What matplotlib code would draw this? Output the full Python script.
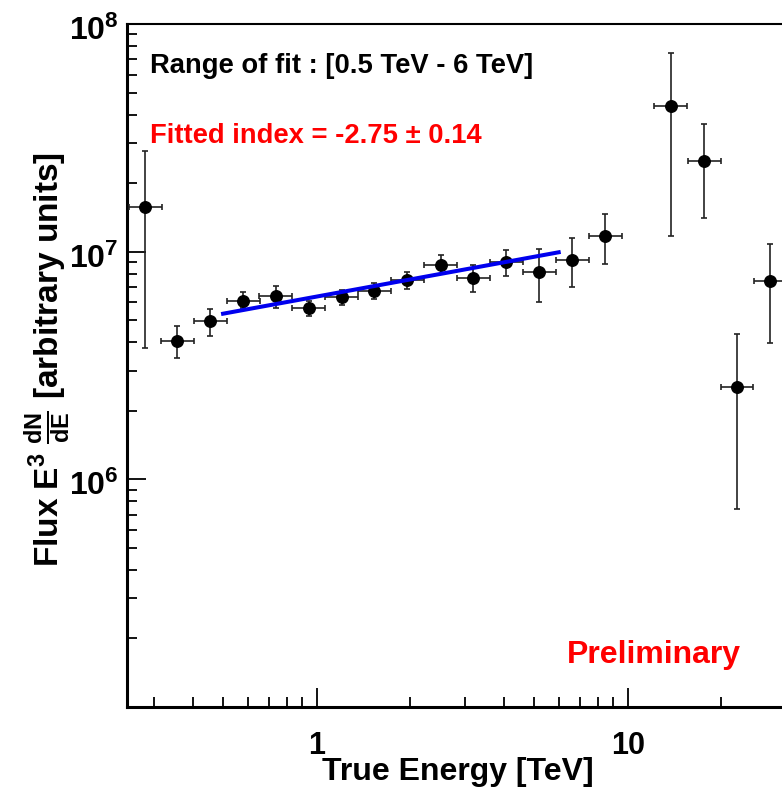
"""Unfolded spectrum: E^3 dN/dE versus true energy, with power-law fit."""

from __future__ import annotations

import matplotlib
import numpy as np
from matplotlib import ticker
from matplotlib import transforms

matplotlib.use("Agg")
from matplotlib import pyplot as plt  # noqa: E402


ENERGY_TEV = [0.281, 0.356, 0.454, 0.581, 0.738, 0.944, 1.203, 1.532, 1.956,
              2.504, 3.188, 4.062, 5.196, 6.635, 8.47, 13.77, 17.6, 22.46, 28.68]
FLUX = [1.57e7, 4.05e6, 4.94e6, 6.08e6, 6.37e6, 5.64e6, 6.33e6, 6.74e6, 7.48e6,
        8.74e6, 7.67e6, 8.98e6, 8.15e6, 9.23e6, 1.175e7, 4.36e7, 2.51e7, 2.55e6, 7.40e6]
FLUX_UP = [2.77e7, 4.70e6, 5.62e6, 6.68e6, 7.05e6, 6.05e6, 6.81e6, 7.29e6, 8.11e6,
           9.63e6, 8.74e6, 1.013e7, 1.023e7, 1.143e7, 1.47e7, 7.48e7, 3.62e7, 4.33e6, 1.077e7]
FLUX_DOWN = [3.76e6, 3.42e6, 4.26e6, 5.68e6, 5.66e6, 5.20e6, 5.84e6, 6.22e6, 6.86e6,
             7.98e6, 6.64e6, 7.80e6, 6.00e6, 7.00e6, 8.79e6, 1.167e7, 1.40e7, 7.43e5, 3.98e6]
BIN_HALF_WIDTH_DEX = 0.053

FIT_RANGE_TEV = (0.5, 6.0)
FIT_INDEX = -2.75
FIT_INDEX_ERR = 0.14
FIT_NORM_1TEV = 6.35e6

X_MAJOR = [1, 10]
X_MAJOR_LABELS = ["1", "10"]
X_MINOR = [0.3, 0.4, 0.5, 0.6, 0.7, 0.8, 0.9, 2, 3, 4, 5, 6, 7, 8, 9, 20]
Y_MAJOR = [1e6, 1e7, 1e8]

WIDTH_PX, HEIGHT_PX = 782, 789


def fx(px: float) -> float:
    return px / WIDTH_PX


def fy(py: float) -> float:
    return 1.0 - py / HEIGHT_PX


def main() -> None:
    plt.rcParams["font.family"] = ["Liberation Sans", "DejaVu Sans"]
    plt.rcParams["font.weight"] = "bold"
    plt.rcParams["mathtext.fontset"] = "custom"
    plt.rcParams["mathtext.rm"] = "Liberation Sans:bold"
    plt.rcParams["mathtext.bf"] = "Liberation Sans:bold"
    plt.rcParams["mathtext.it"] = "Liberation Sans:bold"

    figure = plt.figure(figsize=(WIDTH_PX / 100, HEIGHT_PX / 100), dpi=100)
    left, top, bottom = 127, 24, 707
    axis = figure.add_axes([fx(left), fy(bottom), 1.0 - fx(left), (bottom - top) / HEIGHT_PX])

    energy = np.array(ENERGY_TEV)
    flux = np.array(FLUX)
    x_low = energy - energy / 10 ** BIN_HALF_WIDTH_DEX
    x_high = energy * 10 ** BIN_HALF_WIDTH_DEX - energy
    y_low = flux - np.array(FLUX_DOWN)
    y_high = np.array(FLUX_UP) - flux

    axis.errorbar(
        energy, flux,
        xerr=[x_low, x_high], yerr=[y_low, y_high],
        fmt="o", color="black", markersize=8.3, ecolor="#222222",
        elinewidth=1.2, capsize=2, capthick=1.2, clip_on=True, zorder=3,
    )

    fit_energy = np.geomspace(*FIT_RANGE_TEV, 50)
    fit_flux = FIT_NORM_1TEV * fit_energy ** (FIT_INDEX + 3)
    axis.plot(fit_energy, fit_flux, color="#0000ee", linewidth=2.9, zorder=4)

    axis.set_xscale("log")
    axis.set_yscale("log")
    axis.set_xlim(10 ** ((left - 316.7) / 311), 10 ** ((WIDTH_PX - 316.7) / 311))
    axis.set_ylim(1e5, 1e8)

    axis.xaxis.set_major_locator(ticker.FixedLocator(X_MAJOR))
    axis.xaxis.set_major_formatter(ticker.FixedFormatter(X_MAJOR_LABELS))
    axis.xaxis.set_minor_locator(ticker.FixedLocator(X_MINOR))
    axis.xaxis.set_minor_formatter(ticker.NullFormatter())
    axis.yaxis.set_major_locator(ticker.FixedLocator(Y_MAJOR))
    axis.yaxis.set_major_formatter(
        ticker.FuncFormatter(lambda v, _: r"$\mathrm{10^{%d}}$" % round(np.log10(v)))
    )
    axis.yaxis.set_minor_locator(ticker.LogLocator(base=10, subs=np.arange(2, 10), numticks=20))
    axis.yaxis.set_minor_formatter(ticker.NullFormatter())

    axis.tick_params(which="both", direction="in", width=1.3, top=False, right=False)
    axis.tick_params(which="major", length=14)
    axis.tick_params(which="minor", length=7.5)
    axis.tick_params(axis="x", which="major", labelsize=22, pad=17)
    axis.tick_params(axis="y", which="major", labelsize=23, pad=6)

    # ROOT puts the decade labels a touch below their ticks
    shift = transforms.ScaledTranslation(0, -4 / 100, figure.dpi_scale_trans)
    for label in axis.get_yticklabels():
        label.set_transform(label.get_transform() + shift)

    axis.spines["right"].set_visible(False)
    axis.spines["left"].set_linewidth(2.2)
    axis.spines["bottom"].set_linewidth(2.2)
    axis.spines["top"].set_linewidth(1.5)

    axis_w = WIDTH_PX - left
    axis_h = bottom - top
    axis.set_xlabel("True Energy [TeV]", fontsize=23, fontweight="bold", ha="left", va="baseline")
    axis.xaxis.set_label_coords((322 - left) / axis_w, (bottom - 780) / axis_h)
    axis.set_ylabel(
        r"Flux E$^{3}$ $\frac{\mathrm{dN}}{\mathrm{dE}}$ [arbitrary units]",
        fontsize=24, fontweight="bold", ha="center", va="center",
    )
    axis.yaxis.set_label_coords((48 - left) / axis_w, (bottom - 360) / axis_h)

    figure.text(fx(150), fy(73), "Range of fit : [0.5 TeV - 6 TeV]",
                fontsize=19.7, fontweight="bold", color="black", va="baseline")
    figure.text(fx(150), fy(143),
                f"Fitted index = {FIT_INDEX:.2f} \u00b1 {FIT_INDEX_ERR:.2f}",
                fontsize=19.7, fontweight="bold", color="#ff0000", va="baseline")
    figure.text(fx(567), fy(663), "Preliminary",
                fontsize=23, fontweight="bold", color="#ff0000", va="baseline")

    figure.savefig("out.png", dpi=100, facecolor="white")
    plt.close(figure)


if __name__ == "__main__":
    main()
